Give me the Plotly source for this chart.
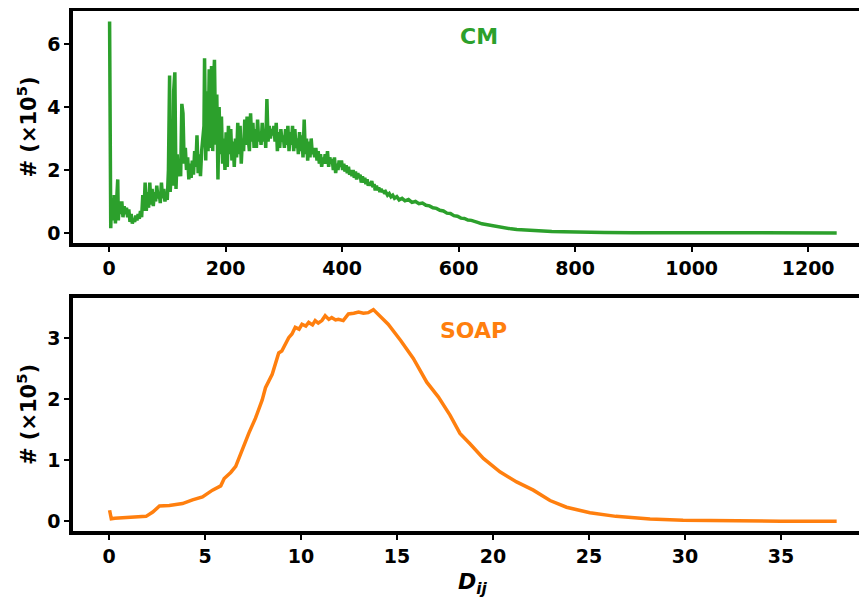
import plotly.graph_objects as go
from plotly.subplots import make_subplots

# ---------------- data ----------------
cm_x = [1, 3, 4, 5, 6, 8, 9, 11, 13, 15, 16, 18, 20, 22, 24, 26, 28, 30, 32, 34, 36, 38, 40, 42, 44, 46, 48, 50,
        52, 54, 56, 58, 60, 62, 64, 66, 68, 70, 72, 74, 76, 78, 80, 82, 84, 86, 88, 90, 92, 94, 96, 98, 100,
        102, 104, 105, 107, 109, 111, 113, 115, 117, 119, 121, 123, 125, 127, 129, 131, 133, 135, 137, 139,
        141, 143, 145, 147, 149, 151, 153, 155, 157, 159, 161, 163, 164, 166, 168, 170, 172, 174, 176, 178,
        180, 181, 183, 185, 187, 189, 191, 193, 195, 197, 199, 201, 203, 205, 207, 209, 211, 213, 215, 217,
        219, 221, 223, 225, 227, 229, 231, 233, 235, 237, 239, 241, 243, 245, 247, 249, 251, 253, 255, 257,
        259, 261, 263, 265, 267, 269, 271, 273, 275, 277, 279, 281, 283, 285, 287, 289, 291, 293, 295, 297,
        299, 301, 303, 305, 307, 309, 311, 313, 315, 317, 319, 321, 323, 325, 327, 329, 331, 333, 335, 337,
        339, 341, 343, 345, 347, 349, 351, 353, 355, 357, 359, 361, 363, 365, 367, 369, 371, 373, 375, 377,
        379, 381, 383, 385, 387, 389, 391, 393, 395, 397, 399, 401, 403, 405, 407, 409, 411, 413, 415, 417,
        419, 421, 423, 425, 427, 429, 431, 433, 435, 437, 439, 441, 443, 445, 447, 449, 451, 453, 455, 457,
        459, 461, 463, 465, 467, 469, 471, 473, 475, 478, 481, 484, 487, 490, 494, 498, 503, 508, 514, 520,
        526, 532, 538, 544, 550, 556, 562, 568, 574, 580, 586, 592, 598, 604, 610, 616, 622, 628, 634, 640,
        646, 652, 660, 670, 680, 690, 700, 710, 720, 740, 760, 780, 800, 850, 900, 950, 1000, 1100, 1200, 1249]
cm_y = [6.72, 0.15, 0.9, 0.4, 1.1, 0.6, 1.2, 0.3, 0.9, 1.7, 0.4, 1.0, 0.6, 1.0, 0.5, 0.85, 0.6, 0.8, 0.5, 0.75,
        0.35, 0.6, 0.3, 0.45, 0.35, 0.55, 0.4, 0.6, 0.45, 0.7, 0.5, 1.2, 0.7, 1.6, 0.7, 1.3, 0.8, 1.6, 0.9, 1.4,
        0.85, 1.3, 1.0, 1.5, 1.1, 1.3, 0.95, 1.6, 1.1, 1.4, 1.0, 1.2, 1.05,
        2.0, 5.0, 1.3, 2.0, 1.5, 4.5, 5.1, 1.4, 2.5, 1.8, 2.2, 1.8, 4.1, 3.8, 2.2, 2.7, 2.0, 2.4, 1.7, 2.2,
        1.75, 2.3, 1.85, 2.6, 2.1, 3.1, 1.9, 2.5, 1.8, 2.6, 3.0, 3.4, 5.55, 2.3, 4.5, 2.6, 5.2, 2.7, 5.3, 2.6,
        5.0, 5.5, 2.8, 4.4, 1.7, 4.0, 2.5, 3.7, 2.2, 3.0, 2.0, 3.2, 2.1, 3.4, 2.5, 3.3, 2.3, 2.9, 2.1, 3.0,
        2.4, 3.5, 2.5, 3.4, 2.2, 3.0, 2.6, 3.6, 2.8, 3.7, 3.0, 2.6, 3.8, 2.9, 3.5, 2.7, 3.3, 2.7, 3.6, 2.9,
        3.2, 2.8, 3.5, 2.9, 3.3, 2.7, 4.25, 2.9, 3.4, 3.0, 3.3, 3.1, 3.4, 2.9, 3.5, 2.6, 3.2, 2.7, 3.3, 2.9,
        3.1, 2.7, 3.3, 2.8, 3.4, 2.6, 3.2, 2.8, 3.4, 2.6, 3.3, 2.7, 3.0, 2.5, 3.2, 2.6, 3.1, 2.4, 3.6, 2.5,
        3.0, 2.3, 2.9, 2.4, 3.0, 2.5, 2.7, 2.4, 2.7, 2.3, 2.6, 2.2, 2.5, 2.1, 2.4, 2.2, 2.5, 2.2, 2.6, 2.1,
        2.4, 2.2, 2.35, 2.0, 2.4, 1.9, 2.2, 2.0, 2.3, 2.1, 2.3, 2.0, 2.2, 1.95, 2.15, 1.9, 2.1, 1.85, 2.0, 1.8,
        2.0, 1.75, 1.95, 1.7, 1.9, 1.75, 1.85, 1.6, 1.8, 1.6, 1.75, 1.55, 1.7, 1.5, 1.6, 1.5, 1.65, 1.45, 1.55, 1.35,
        1.5, 1.35, 1.45, 1.3, 1.4, 1.3, 1.35, 1.25, 1.3, 1.2, 1.25, 1.15, 1.2, 1.1, 1.15, 1.05, 1.1, 1.02, 1.06, 0.97,
        1.0, 0.93, 0.95, 0.88, 0.86, 0.8, 0.78, 0.72, 0.7, 0.63, 0.62, 0.55, 0.53, 0.47, 0.46, 0.41, 0.4, 0.35, 0.33, 0.29,
        0.27, 0.24, 0.21, 0.18, 0.16, 0.13, 0.11, 0.095, 0.08, 0.06, 0.045, 0.035, 0.025, 0.015, 0.01, 0.007, 0.005, 0.002, 0.001, 0.0]

soap_x = [0.03, 0.12, 0.3, 0.9, 1.5, 1.93, 2.28, 2.63, 3.14, 3.83, 4.35, 4.87, 5.39, 5.82, 6.0, 6.34, 6.6, 6.86,
          7.12, 7.29, 7.63, 7.98, 8.15, 8.5, 8.84, 9.0, 9.36, 9.53, 9.7, 9.9, 10.05, 10.25, 10.4, 10.6, 10.74,
          10.9, 11.09, 11.26, 11.45, 11.6, 11.8, 11.95, 12.2, 12.47, 12.75, 13.0, 13.25, 13.5, 13.77, 14.0,
          14.54, 15.2, 15.85, 16.55, 17.15, 17.76, 18.28, 18.8, 19.5, 20.36, 21.23, 22.1, 22.97, 23.83, 25.05,
          26.4, 28.18, 29.9, 32.5, 35.0, 37.9]
soap_y = [0.18, 0.04, 0.05, 0.06, 0.07, 0.08, 0.15, 0.25, 0.26, 0.29, 0.35, 0.40, 0.51, 0.58, 0.70, 0.80, 0.9, 1.12,
          1.31, 1.45, 1.69, 1.99, 2.19, 2.41, 2.76, 2.79, 3.01, 3.07, 3.18, 3.15, 3.23, 3.2, 3.26, 3.22, 3.29,
          3.25, 3.29, 3.37, 3.31, 3.34, 3.3, 3.31, 3.29, 3.4, 3.41, 3.43, 3.41, 3.42, 3.47, 3.40,
          3.23, 2.96, 2.67, 2.28, 2.04, 1.74, 1.44, 1.27, 1.03, 0.81, 0.645, 0.51, 0.34, 0.23, 0.14,
          0.08, 0.038, 0.016, 0.003, 0.0, 0.0]

cm_ticks = [0, 200, 400, 600, 800, 1000, 1200]
soap_ticks = [0, 5, 10, 15, 20, 25, 30, 35]
cm_yticks = [0, 2, 4, 6]
soap_yticks = [0, 1, 2, 3]

GREEN = "#2ca02c"
ORANGE = "#ff7f0e"
FONT = "DejaVu Sans"

fig = make_subplots(rows=2, cols=1)
fig.add_trace(go.Scatter(x=cm_x, y=cm_y, mode="lines", line=dict(color=GREEN, width=3.5),
                         showlegend=False), row=1, col=1)
fig.add_trace(go.Scatter(x=soap_x, y=soap_y, mode="lines", line=dict(color=ORANGE, width=3.5),
                         showlegend=False), row=2, col=1)

tickfont = dict(family=FONT, size=19, color="black", weight="bold")
axcommon = dict(showgrid=False, zeroline=False, showline=True, linecolor="black", linewidth=3.5,
                ticks="outside", ticklen=5, tickwidth=1.5, tickcolor="black", tickfont=tickfont,
                automargin=False)

fig.update_xaxes(**axcommon, mirror=True)
fig.update_yaxes(**axcommon, mirror=False)

ytitle_font = dict(family=FONT, size=21, color="black", weight="bold")
# the page body has an 8px margin, so the figure is 8px smaller and margins shifted accordingly
fig.update_layout(
    width=859, height=590,
    margin=dict(l=65, r=0, t=3, b=67),
    plot_bgcolor="white", paper_bgcolor="white",
    xaxis=dict(domain=[0, 1], range=[-61.8, 1301], tickvals=cm_ticks, anchor="y"),
    yaxis=dict(domain=[0.5538, 1], range=[-0.32, 7.05], tickvals=cm_yticks,
               title=dict(text="# (×10<sup>5</sup>)", standoff=6, font=ytitle_font)),
    xaxis2=dict(domain=[0, 1], range=[-1.875, 39.48], tickvals=soap_ticks, anchor="y2"),
    yaxis2=dict(domain=[0, 0.448], range=[-0.16, 3.66], tickvals=soap_yticks,
                title=dict(text="# (×10<sup>5</sup>)", standoff=6, font=ytitle_font)),
)

fig.add_annotation(x=18.96, y=0, xref="x2", yref="paper", yshift=-36, yanchor="top",
                   text="<i>D<sub>ij</sub></i>", showarrow=False,
                   font=dict(family=FONT, size=22, color="black", weight="bold"))
fig.add_annotation(x=635, y=6.25, xref="x", yref="y", text="CM", showarrow=False,
                   font=dict(family=FONT, size=22, color=GREEN, weight="bold"))
fig.add_annotation(x=18.96, y=3.13, xref="x2", yref="y2", text="SOAP", showarrow=False,
                   font=dict(family=FONT, size=22, color=ORANGE, weight="bold"))

fig.write_html("out.html")
